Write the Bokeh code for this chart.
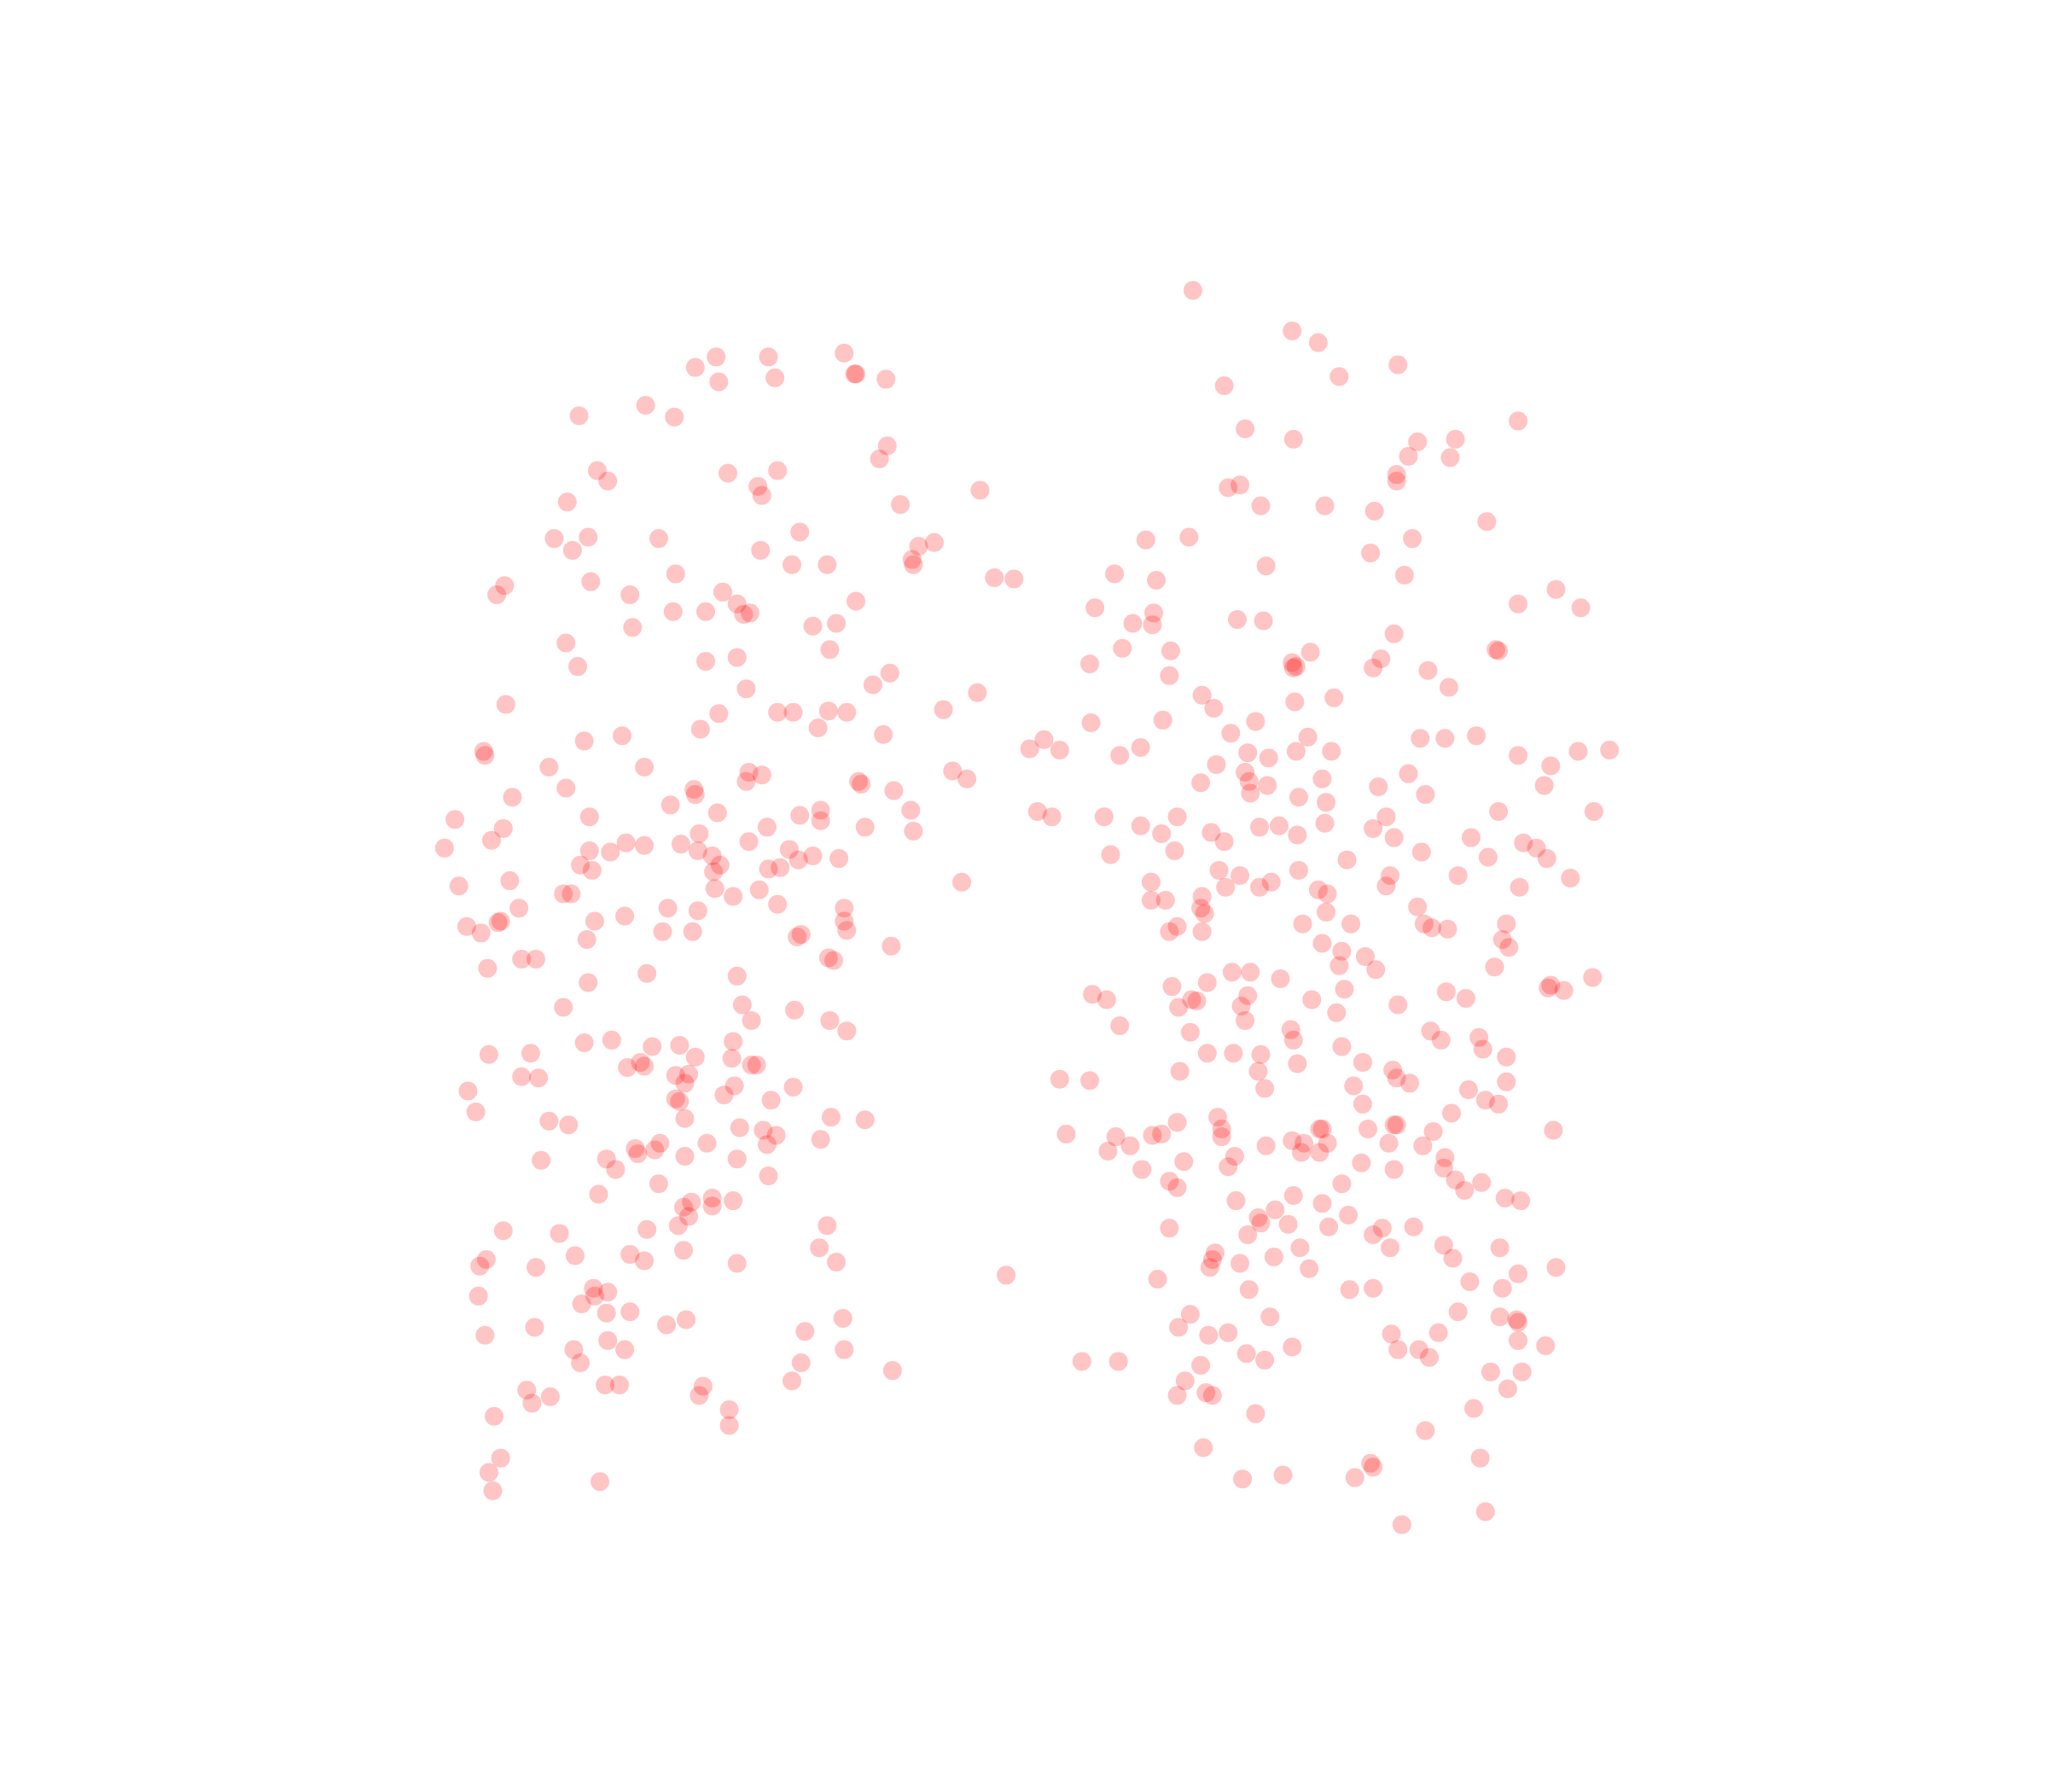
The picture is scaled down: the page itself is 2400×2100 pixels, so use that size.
from bokeh.plotting import figure
from bokeh.models import ColumnDataSource
from bokeh.embed import file_html
from bokeh.resources import INLINE

left_cluster = [(646,270),(548,273),(588,273),(532,281),(655,286),(654,286),(593,289),(678,290),(550,292),(494,310),(516,319),(443,318),(679,341),(673,351),(457,360),(595,360),(557,362),(465,368),(580,372),(583,379),(750,375),(434,384),(689,386),(612,407),(424,412),(450,411),(504,412),(438,421),(582,421),(715,415),(703,418),(698,428),(699,432),(606,432),(633,432),(517,439),(452,445),(761,442),(776,443),(386,448),(380,455),(553,453),(482,455),(564,462),(655,460),(515,468),(540,468),(569,470),(574,469),(640,477),(622,479),(484,480),(433,492),(635,497),(564,503),(540,506),(442,510),(681,515),(668,524),(571,527),(748,530),(387,539),(550,546),(595,545),(607,545),(634,544),(648,545),(722,543),(536,558),(626,557),(676,562),(476,563),(447,567),(370,575),(371,578),(420,587),(493,587),(573,591),(583,593),(571,598),(729,590),(740,596),(657,598),(659,600),(433,603),(531,604),(532,608),(684,605),(392,610),(513,616),(697,620),(549,622),(451,625),(628,620),(612,624),(628,628),(348,627),(587,633),(662,633),(699,636),(385,634),(535,638),(376,643),(573,644),(479,645),(493,647),(521,646),(340,649),(451,651),(467,652),(534,651),(604,650),(545,655),(622,655),(642,657),(611,658),(444,662),(551,662),(597,664),(588,665),(453,666),(546,667),(390,674),(736,675),(351,678),(547,680),(581,681),(431,684),(437,684),(561,686),(595,692),(397,695),(511,695),(534,697),(646,695),(478,701),(455,705),(646,705),(383,705),(381,706),(357,709),(368,714),(507,713),(530,713),(648,712),(613,715),(610,717),(449,719),(682,724),(634,733),(638,735),(399,734),(410,734),(373,741),(495,745),(564,747),(450,752),(568,769),(431,771),(608,773),(575,781),(635,781),(648,789),(561,797),(447,798),(468,796),(499,801),(520,800),(374,807),(406,806),(532,809),(560,810),(490,813),(480,817),(493,816),(575,815),(579,815),(517,823),(527,822),(399,824),(412,825),(524,829),(562,831),(607,832),(358,835),(554,838),(517,841),(520,843),(590,842),(364,851),(524,856),(636,855),(662,857),(420,858),(435,861),(566,863),(584,865),(594,869),(628,872),(587,876),(541,875),(505,875),(486,879),(501,880),(488,883),(524,885),(464,887),(564,887),(414,888),(471,895),(588,900),(504,906),(458,914),(545,917),(561,919),(529,920),(545,923),(523,924),(527,931),(519,938),(633,938),(385,942),(495,941),(428,944),(627,955),(523,957),(482,960),(440,961),(493,965),(372,964),(367,969),(410,970),(640,966),(564,967),(770,976),(454,986),(465,989),(366,992),(455,992),(445,998),(464,1005),(482,1004),(645,1009),(525,1010),(510,1014),(409,1016),(616,1019),(371,1022),(465,1026),(478,1033),(439,1033),(646,1033),(444,1043),(613,1043),(683,1049),(606,1057),(463,1060),(474,1060),(538,1061),(403,1064),(535,1068),(421,1069),(407,1074),(558,1079),(378,1084),(558,1091),(383,1116),(374,1127),(459,1134),(377,1141)]

right_cluster = [(913,222),(989,253),(1009,262),(1070,279),(1025,288),(937,295),(1162,322),(953,328),(990,336),(1114,336),(1085,338),(1078,349),(1110,350),(1069,363),(1069,368),(940,373),(949,371),(965,387),(1014,387),(1052,391),(1138,399),(877,413),(910,411),(1081,412),(1049,423),(969,433),(853,439),(885,444),(1075,440),(1191,451),(1162,462),(838,465),(1210,465),(883,469),(867,477),(882,478),(947,474),(967,475),(1067,485),(859,496),(896,498),(1147,498),(1145,497),(1003,499),(1057,504),(989,507),(992,510),(990,511),(1051,511),(834,508),(895,517),(1093,513),(1109,526),(920,532),(1021,534),(991,537),(929,542),(835,553),(890,551),(961,552),(942,561),(1001,564),(1087,565),(1106,565),(1130,563),(873,572),(788,573),(799,566),(811,574),(857,578),(955,576),(971,580),(992,575),(1019,575),(1162,578),(1208,575),(1232,574),(1187,586),(931,585),(953,591),(1078,592),(919,599),(956,598),(970,601),(1012,596),(1055,602),(1182,601),(957,607),(994,610),(1015,614),(1091,608),(794,621),(805,625),(845,625),(901,625),(1147,621),(1220,621),(873,632),(889,638),(964,633),(979,632),(1014,630),(1061,625),(1051,634),(927,637),(937,644),(993,639),(1067,641),(1126,641),(850,654),(899,651),(1088,652),(1166,645),(1176,649),(1139,656),(1184,657),(933,666),(949,670),(994,666),(1031,658),(1064,670),(1116,670),(1202,672),(881,675),(938,679),(964,679),(973,675),(1009,681),(1061,678),(1163,679),(881,689),(892,689),(920,686),(1016,684),(919,695),(922,699),(1015,698),(1085,694),(901,709),(895,713),(920,713),(997,707),(1034,707),(1090,707),(1096,710),(1108,711),(1153,707),(1150,719),(1012,722),(1155,725),(1027,728),(1045,732),(1025,739),(1144,740),(943,744),(957,744),(1053,742),(980,749),(897,755),(924,752),(1029,757),(1185,756),(1187,754),(1197,758),(1219,748),(836,761),(847,765),(955,762),(912,765),(916,766),(950,770),(902,771),(1004,765),(1107,759),(1122,764),(1070,769),(1023,775),(953,781),(857,785),(911,790),(988,788),(1095,789),(1132,794),(990,796),(1103,796),(1027,801),(1135,803),(924,806),(944,806),(965,807),(1153,809),(1043,813),(993,814),(903,820),(963,820),(1066,819),(1069,825),(811,826),(834,827),(968,833),(1036,831),(1079,829),(1153,828),(1124,834),(1137,842),(1147,845),(1043,845),(1111,852),(901,859),(932,855),(1189,865),(1010,864),(1012,864),(1067,861),(1069,861),(1047,864),(1097,866),(935,864),(935,870),(882,869),(889,868),(816,868),(854,870),(989,873),(1016,875),(998,875),(969,877),(1063,875),(1089,877),(865,877),(848,881),(996,882),(1010,882),(945,885),(1106,886),(940,893),(1042,890),(1067,895),(906,889),(874,895),(1105,894),(895,904),(901,909),(1027,906),(1114,903),(1134,905),(1121,911),(990,915),(946,919),(1012,921),(1152,917),(1164,919),(976,926),(1032,930),(963,932),(965,936),(986,937),(895,940),(1017,939),(1082,939),(955,945),(1058,940),(1051,945),(995,955),(1105,953),(1064,955),(1148,955),(930,959),(975,962),(1112,963),(928,964),(949,967),(926,970),(1002,971),(1191,970),(1162,975),(886,979),(1125,981),(956,987),(1033,987),(1051,986),(1150,986),(1116,1004),(911,1006),(972,1008),(1148,1008),(1161,1010),(1162,1012),(902,1016),(925,1022),(940,1020),(1065,1021),(1101,1020),(1162,1026),(989,1031),(954,1036),(1070,1033),(1086,1033),(1183,1030),(1094,1039),(968,1041),(828,1042),(856,1042),(919,1045),(1141,1050),(1165,1050),(907,1057),(1154,1063),(901,1068),(923,1066),(928,1068),(1128,1078),(961,1082),(1091,1095),(921,1108),(1133,1116),(1049,1120),(1051,1123),(951,1132),(982,1129),(1037,1131),(1137,1157),(1073,1167)]

K = 1.5306
W, H = 2384, 2084
points = left_cluster + right_cluster
src = ColumnDataSource(dict(x=[a for a, b in points], y=[b for a, b in points]))

p = figure(width=W, height=H, output_backend="svg", toolbar_location=None,
           x_range=(0, W / K), y_range=(H / K, 0),
           min_border=0, outline_line_color=None, background_fill_color="white")
p.axis.visible = False
p.grid.visible = False
p.scatter("x", "y", source=src, size=22, fill_color="#ff0000", fill_alpha=0.23, line_color=None)

open("out.html", "w").write(file_html(p, INLINE))
